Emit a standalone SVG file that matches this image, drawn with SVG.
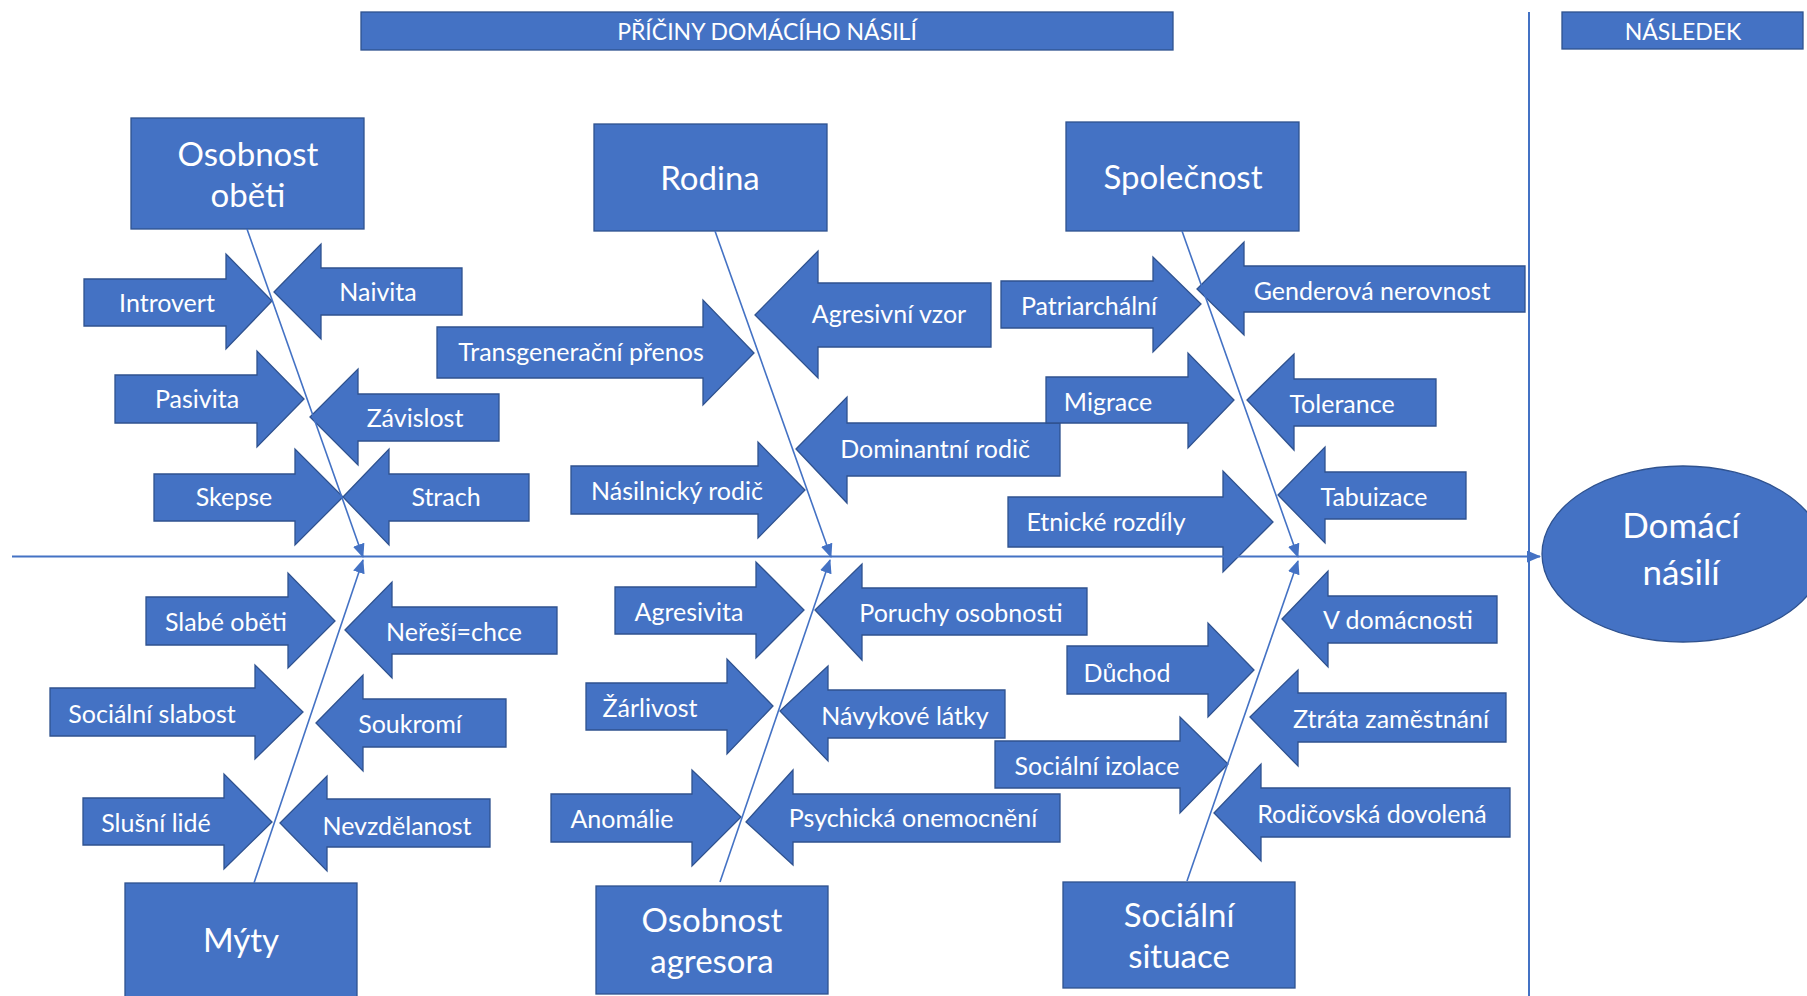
<svg xmlns="http://www.w3.org/2000/svg" width="1807" height="996" viewBox="0 0 1807 996">
<defs>
<style>
.s{fill:#4472C4;stroke:#2F528F;stroke-width:1.3}
.t{fill:#FFFFFF;font-family:Lato,"Open Sans",sans-serif;font-size:25px;text-anchor:middle}
.b{font-size:33px}
.h{font-size:23px}
.c{fill:none;stroke:#4472C4;stroke-width:1.6}
.m{stroke-width:2}
</style>
<marker id="ah" viewBox="0 0 14 12" refX="13" refY="6" markerWidth="14" markerHeight="12" markerUnits="userSpaceOnUse" orient="auto">
<path d="M0,0 L14,6 L0,12 Z" fill="#4472C4"/>
</marker>
</defs>
<rect width="1807" height="996" fill="#FFFFFF"/>

<g id="title">
<rect class="s" x="361" y="12" width="812" height="38"/>
<text class="t h" x="767" y="40">PŘÍČINY DOMÁCÍHO NÁSILÍ</text>
</g>
<g id="nasledek">
<rect class="s" x="1562" y="12" width="241" height="37"/>
<text class="t h" x="1683" y="40">NÁSLEDEK</text>
</g>

<g id="osobnost-obeti">
<rect class="s" x="131" y="118" width="233" height="111"/>
<text class="t b" x="248" y="166">Osobnost</text>
<text class="t b" x="248" y="207">oběti</text>
</g>
<g id="rodina">
<rect class="s" x="594" y="124" width="233" height="107"/>
<text class="t b" x="710" y="190">Rodina</text>
</g>
<g id="spolecnost">
<rect class="s" x="1066" y="122" width="233" height="109"/>
<text class="t b" x="1183" y="189">Společnost</text>
</g>
<g id="myty">
<rect class="s" x="125" y="883" width="232" height="120"/>
<text class="t b" x="241" y="952">Mýty</text>
</g>
<g id="osobnost-agresora">
<rect class="s" x="596" y="886" width="232" height="108"/>
<text class="t b" x="712" y="932">Osobnost</text>
<text class="t b" x="712" y="973">agresora</text>
</g>
<g id="socialni-situace">
<rect class="s" x="1063" y="882" width="232" height="106"/>
<text class="t b" x="1179" y="927">Sociální</text>
<text class="t b" x="1179" y="968">situace</text>
</g>
<g id="domaci-nasili">
<ellipse class="s" cx="1683" cy="554" rx="141" ry="88"/>
<text class="t" style="font-size:35px" x="1681" y="538">Domácí</text>
<text class="t" style="font-size:35px" x="1681" y="585">násilí</text>
</g>

<!-- Osobnost oběti causes -->
<g id="introvert"><polygon class="s" points="84,279 226,279 226,254 272,301 226,349 226,326 84,326"/><text class="t" x="167" y="312">Introvert</text></g>
<g id="naivita"><polygon class="s" points="274,292 321,244 321,268 462,268 462,315 321,315 321,339"/><text class="t" x="378" y="301">Naivita</text></g>
<g id="pasivita"><polygon class="s" points="115,375 257,375 257,351 304,399 257,447 257,423 115,423"/><text class="t" x="197" y="408">Pasivita</text></g>
<g id="zavislost"><polygon class="s" points="310,417 358,369 358,394 499,394 499,441 358,441 358,465"/><text class="t" x="415" y="427">Závislost</text></g>
<g id="skepse"><polygon class="s" points="154,474 295,474 295,449 343,497 295,545 295,521 154,521"/><text class="t" x="234" y="506">Skepse</text></g>
<g id="strach"><polygon class="s" points="343,497 389,449 389,474 529,474 529,521 389,521 389,545"/><text class="t" x="446" y="506">Strach</text></g>

<!-- Rodina causes -->
<g id="transgeneracni"><polygon class="s" points="437,327 703,327 703,300 754,353 703,405 703,378 437,378"/><text class="t" x="581" y="361">Transgenerační přenos</text></g>
<g id="agresivni-vzor"><polygon class="s" points="755,315 818,251 818,283 991,283 991,347 818,347 818,378"/><text class="t" x="889" y="323">Agresivní vzor</text></g>
<g id="dominantni-rodic"><polygon class="s" points="796,449 847,397 847,423 1060,423 1060,476 847,476 847,503"/><text class="t" x="935" y="458">Dominantní rodič</text></g>
<g id="nasilnicky-rodic"><polygon class="s" points="571,466 758,466 758,442 805,490 758,538 758,514 571,514"/><text class="t" x="677" y="500">Násilnický rodič</text></g>

<!-- Společnost causes -->
<g id="patriarchalni"><polygon class="s" points="1001,281 1153,281 1153,257 1201,304 1153,352 1153,328 1001,328"/><text class="t" x="1089" y="315">Patriarchální</text></g>
<g id="genderova"><polygon class="s" points="1197,289 1244,242 1244,266 1525,266 1525,312 1244,312 1244,335"/><text class="t" x="1372" y="300">Genderová nerovnost</text></g>
<g id="migrace"><polygon class="s" points="1046,377 1188,377 1188,353 1234,400 1188,448 1188,423 1046,423"/><text class="t" x="1108" y="411">Migrace</text></g>
<g id="tolerance"><polygon class="s" points="1247,400 1294,354 1294,379 1436,379 1436,426 1294,426 1294,450"/><text class="t" x="1342" y="413">Tolerance</text></g>
<g id="etnicke"><polygon class="s" points="1008,497 1223,497 1223,471 1273,522 1223,572 1223,547 1008,547"/><text class="t" x="1106" y="531">Etnické rozdíly</text></g>
<g id="tabuizace"><polygon class="s" points="1278,495 1325,447 1325,472 1466,472 1466,519 1325,519 1325,543"/><text class="t" x="1374" y="506">Tabuizace</text></g>

<!-- Mýty causes -->
<g id="slabe-obeti"><polygon class="s" points="146,597 288,597 288,573 335,621 288,668 288,645 146,645"/><text class="t" x="226" y="631">Slabé oběti</text></g>
<g id="neresi"><polygon class="s" points="345,630 392,582 392,607 557,607 557,654 392,654 392,678"/><text class="t" x="454" y="641">Neřeší=chce</text></g>
<g id="socialni-slabost"><polygon class="s" points="50,688 255,688 255,665 303,712 255,759 255,736 50,736"/><text class="t" x="152" y="723">Sociální slabost</text></g>
<g id="soukromi"><polygon class="s" points="316,723 363,675 363,699 506,699 506,747 363,747 363,771"/><text class="t" x="410" y="733">Soukromí</text></g>
<g id="slusni-lide"><polygon class="s" points="83,798 224,798 224,774 272,822 224,869 224,845 83,845"/><text class="t" x="156" y="832">Slušní lidé</text></g>
<g id="nevzdelanost"><polygon class="s" points="280,823 327,776 327,799 490,799 490,847 327,847 327,871"/><text class="t" x="397" y="835">Nevzdělanost</text></g>

<!-- Osobnost agresora causes -->
<g id="agresivita"><polygon class="s" points="615,587 756,587 756,562 804,610 756,658 756,634 615,634"/><text class="t" x="689" y="621">Agresivita</text></g>
<g id="poruchy"><polygon class="s" points="815,610 862,564 862,588 1087,588 1087,635 862,635 862,660"/><text class="t" x="961" y="622">Poruchy osobnosti</text></g>
<g id="zarlivost"><polygon class="s" points="586,683 727,683 727,659 773,706 727,754 727,730 586,730"/><text class="t" x="650" y="717">Žárlivost</text></g>
<g id="navykove"><polygon class="s" points="780,711 828,666 828,690 1005,690 1005,738 828,738 828,761"/><text class="t" x="905" y="725">Návykové látky</text></g>
<g id="anomalie"><polygon class="s" points="551,794 692,794 692,770 741,817 692,866 692,842 551,842"/><text class="t" x="622" y="828">Anomálie</text></g>
<g id="psychicka"><polygon class="s" points="746,822 793,770 793,794 1060,794 1060,842 793,842 793,865"/><text class="t" x="913" y="827">Psychická onemocnění</text></g>

<!-- Sociální situace causes -->
<g id="v-domacnosti"><polygon class="s" points="1282,619 1328,571 1328,596 1497,596 1497,643 1328,643 1328,667"/><text class="t" x="1398" y="629">V domácnosti</text></g>
<g id="duchod"><polygon class="s" points="1067,646 1208,646 1208,623 1254,670 1208,717 1208,694 1067,694"/><text class="t" x="1127" y="682">Důchod</text></g>
<g id="ztrata"><polygon class="s" points="1250,717 1298,670 1298,693 1506,693 1506,742 1298,742 1298,766"/><text class="t" x="1391" y="728">Ztráta zaměstnání</text></g>
<g id="socialni-izolace"><polygon class="s" points="995,741 1180,741 1180,717 1228,764 1180,813 1180,788 995,788"/><text class="t" x="1097" y="775">Sociální izolace</text></g>
<g id="rodicovska"><polygon class="s" points="1214,813 1261,764 1261,788 1510,788 1510,837 1261,837 1261,861"/><text class="t" x="1372" y="823">Rodičovská dovolená</text></g>

<g id="connectors">
<line class="c m" x1="1529" y1="12" x2="1529" y2="996"/>
<line class="c m" x1="12" y1="556.5" x2="1540" y2="556.5" marker-end="url(#ah)"/>
<line class="c" x1="247" y1="229" x2="363" y2="557" marker-end="url(#ah)"/>
<line class="c" x1="715" y1="231" x2="831" y2="557" marker-end="url(#ah)"/>
<line class="c" x1="1182" y1="231" x2="1298" y2="557" marker-end="url(#ah)"/>
<line class="c" x1="254" y1="883" x2="363" y2="560" marker-end="url(#ah)"/>
<line class="c" x1="720" y1="882" x2="830" y2="560" marker-end="url(#ah)"/>
<line class="c" x1="1187" y1="881" x2="1298" y2="561" marker-end="url(#ah)"/>
</g>
</svg>
